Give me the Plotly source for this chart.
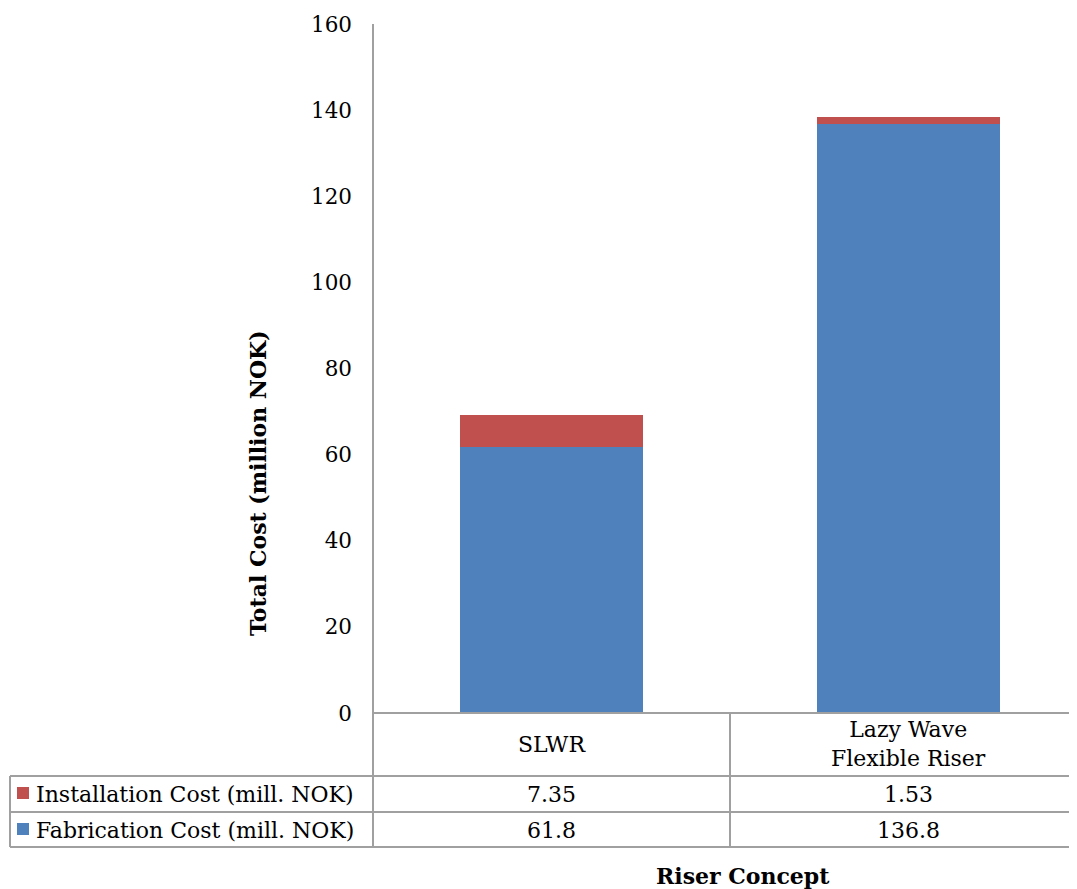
import plotly.graph_objects as go

categories = ["SLWR", "Lazy Wave<br>Flexible Riser"]
fabrication = [61.8, 136.8]
installation = [7.35, 1.53]
fab_labels = ["61.8", "136.8"]
inst_labels = ["7.35", "1.53"]
series_names = ["Installation Cost (mill. NOK)", "Fabrication Cost (mill. NOK)"]
y_ticks = [0, 20, 40, 60, 80, 100, 120, 140, 160]

BLUE = "#4F81BD"
RED = "#C0504D"
GRID = "#A0A0A0"
FONT = "DejaVu Serif"

OFF = 8  # page body margin
W, H = 1077 - OFF, 889 - OFF
L = 373 - OFF
T = 24 - OFF
B = H - (713 - OFF)
R = 0
PW = W - L - R
PH = H - T - B


def px(x):
    return (x - OFF - L) / PW


def py(y):
    return (H - B - (y - OFF)) / PH


xs = [0, 1]
fig = go.Figure()
fig.add_trace(go.Bar(x=xs, y=fabrication, name=series_names[1], marker_color=BLUE,
                     marker_line_width=0, width=0.515))
fig.add_trace(go.Bar(x=xs, y=installation, name=series_names[0], marker_color=RED,
                     marker_line_width=0, width=0.515))

shapes = []
def line(x0, y0, x1, y1):
    shapes.append(dict(type="line", xref="paper", yref="paper",
                       x0=px(x0), y0=py(y0), x1=px(x1), y1=py(y1),
                       line=dict(color=GRID, width=2)))

# table grid
line(373, 713, 1077, 713)
line(373, 24, 373, 847)
line(730, 713, 730, 847)
line(10, 776, 1077, 776)
line(10, 812, 1077, 812)
line(10, 847, 1077, 847)
line(10, 776, 10, 847)

# legend keys
for yc, col in [(793, RED), (829, BLUE)]:
    shapes.append(dict(type="rect", xref="paper", yref="paper",
                       x0=px(17), x1=px(29), y0=py(yc - 6), y1=py(yc + 6),
                       fillcolor=col, line=dict(width=0)))

ann = []
tf = dict(family=FONT, size=22, color="#000000")
for i, c in enumerate(categories):
    ann.append(dict(x=xs[i], xref="x", y=py(744), yref="paper", text=c, showarrow=False,
                    font=tf, xanchor="center", yanchor="middle"))
    ann.append(dict(x=xs[i], xref="x", y=py(794), yref="paper", text=inst_labels[i],
                    showarrow=False, font=tf, xanchor="center", yanchor="middle"))
    ann.append(dict(x=xs[i], xref="x", y=py(830), yref="paper", text=fab_labels[i],
                    showarrow=False, font=tf, xanchor="center", yanchor="middle"))
ann.append(dict(x=px(34), xref="paper", y=py(794), yref="paper", text=series_names[0],
                showarrow=False, font=tf, xanchor="left", yanchor="middle"))
ann.append(dict(x=px(34), xref="paper", y=py(830), yref="paper", text=series_names[1],
                showarrow=False, font=tf, xanchor="left", yanchor="middle"))
ann.append(dict(x=px(743), xref="paper", y=py(876), yref="paper", text="<b>Riser Concept</b>",
                showarrow=False, font=dict(family=FONT, size=22, color="#000"),
                xanchor="center", yanchor="middle"))
ann.append(dict(x=px(258), xref="paper", y=py(483), yref="paper",
                text="<b>Total Cost (million NOK)</b>", textangle=-90,
                showarrow=False, font=dict(family=FONT, size=22, color="#000"),
                xanchor="center", yanchor="middle"))

fig.update_layout(
    width=W, height=H,
    margin=dict(l=L, r=R, t=T, b=B, pad=0),
    barmode="stack",
    showlegend=False,
    plot_bgcolor="white", paper_bgcolor="white",
    shapes=shapes, annotations=ann,
    xaxis=dict(range=[-0.5, 1.472], showticklabels=False, showgrid=False,
               zeroline=False, showline=False, ticks=""),
    yaxis=dict(range=[0, 160], tickvals=y_ticks, showgrid=False, zeroline=False,
               showline=False, ticks="", ticklabelstandoff=20,
               tickfont=dict(family=FONT, size=21.5, color="#000")),
)

fig.write_html("out.html")
